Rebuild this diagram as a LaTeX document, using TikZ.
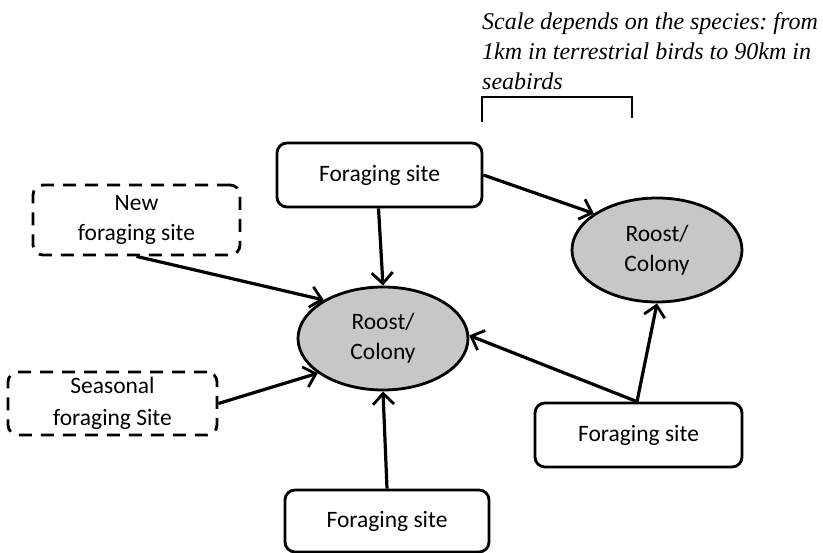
\documentclass[tikz,border=0pt]{standalone}
\usepackage{fontspec}
\setmainfont{Carlito}
\newfontfamily\serifit{Liberation Serif}
\usetikzlibrary{arrows.meta,shapes.geometric}
\frenchspacing
\begin{document}
\begin{tikzpicture}[x=1pt,y=-1pt,
  box/.style={draw,line width=2.8pt,rounded corners=10pt,minimum width=205pt,minimum height=64pt,align=center,font=\fontsize{23.5}{30}\selectfont,inner sep=0pt},
  dbox/.style={box,dash pattern=on 13pt off 9pt},
  roost/.style={draw,ellipse,fill=black!22,line width=2.8pt,align=center,font=\fontsize{23.5}{30}\selectfont,inner sep=0pt,minimum width=170pt,minimum height=103pt},
  conn/.style={line width=3.2pt,-{Straight Barb[length=11pt,width=21pt,line width=2.8pt]}}]
\useasboundingbox (0,0) rectangle (823,553);
\node[box] (ftop) at (379.5,175) {Foraging site};
\node[box,minimum width=207pt] (fright) at (638.5,435) {Foraging site};
\node[box,minimum width=204pt,minimum height=62pt] (fbot) at (387,521) {Foraging site};
\node[dbox,minimum width=207pt,minimum height=70pt] (newf) at (136.5,220) {New\\foraging site};
\node[dbox,minimum width=209pt,minimum height=63pt,font=\fontsize{23.5}{32}\selectfont] (seas) at (112.5,403.5) {Seasonal\\foraging Site};
\node[roost] (r1) at (383,338.5) {Roost/\\Colony};
\node[roost,minimum height=104pt] (r2) at (657,250) {Roost/\\Colony};
\coordinate (bl) at (482,122);
\coordinate (br) at (632,118);
\draw[line width=1.8pt] (bl) |- (557,97) -| (br);
\node[anchor=north west,align=left,font=\serifit\itshape\fontsize{24}{30}\selectfont,inner sep=0pt] (txt) at (482,12)
  {Scale depends on the species: from\\1km in terrestrial birds to 90km in\\seabirds};
\draw[conn] (ftop.south) ++(-1,0) -- (r1.north);
\draw[conn] (ftop.east) -- (r2.150);
\draw[conn] (newf.south) -- (r1.147);
\draw[conn] (seas.east) -- (r1.208);
\draw[conn] (fbot.north) -- (r1.south);
\draw[conn] (fright.north) ++(-1.5,0) coordinate (fr) -- (r1.2);
\draw[conn] (fr) -- (r2.south);
\end{tikzpicture}
\end{document}
